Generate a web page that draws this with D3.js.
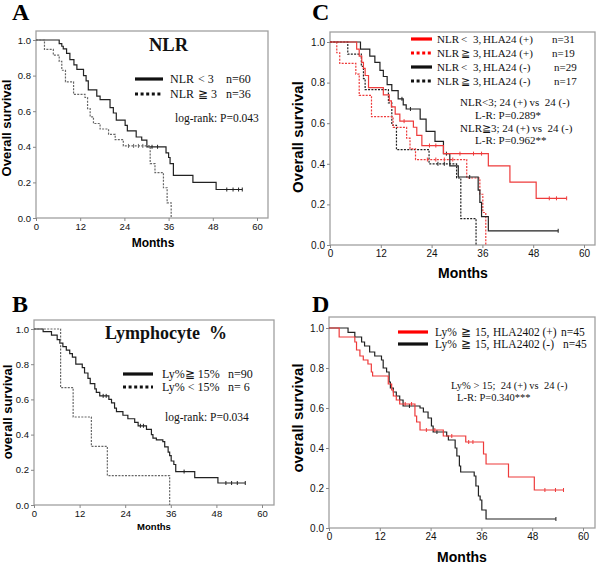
<!DOCTYPE html>
<html><head><meta charset="utf-8">
<script src="https://cdn.jsdelivr.net/npm/d3@7"></script>
<style>
html,body{margin:0;padding:0;background:#fff;}
svg text{white-space:pre;}
</style>
</head><body>
<svg id="chart" width="600" height="564"></svg>
<script>
// ---------- data ----------
const monthTicks = [0, 12, 24, 36, 48, 60];
const survTicks = [0, 0.2, 0.4, 0.6, 0.8, 1.0];

// Panel A: NLR
const aLowTime = [6.3, 7.0, 7.4, 8.3, 9.2, 10.3, 11.1, 12.9, 13.6, 14.2, 16.5, 17.4, 20.1, 21.0, 21.8, 24.2, 24.8, 27.2, 28.7, 30.1, 35.3, 36.0, 36.4, 37.3, 42.6, 48.9];
const aLowSurv = [0.98, 0.965, 0.95, 0.925, 0.89, 0.86, 0.835, 0.80, 0.77, 0.72, 0.685, 0.665, 0.62, 0.59, 0.55, 0.52, 0.49, 0.455, 0.437, 0.40, 0.366, 0.34, 0.305, 0.24, 0.20, 0.16];
const aLowCensor = [31.5, 33.0, 51.8, 53.5, 55.0, 56.0];
const aHighTime = [2.3, 4.7, 6.3, 7.0, 8.0, 10.2, 13.3, 14.0, 14.7, 15.6, 17.4, 19.7, 21.5, 23.7, 31.0, 32.3, 34.6, 35.6, 36.7];
const aHighSurv = [0.947, 0.915, 0.88, 0.83, 0.765, 0.694, 0.677, 0.615, 0.568, 0.531, 0.50, 0.47, 0.44, 0.405, 0.306, 0.255, 0.17, 0.085, 0.0];
const aHighCensor = [25.1, 26.5, 27.8, 29.0];

// Panel B: Lymphocyte %
const bHighTime = [2.4, 4.6, 6.1, 6.8, 7.6, 8.5, 9.4, 10.1, 11.0, 12.7, 13.3, 14.2, 14.8, 16.0, 16.4, 17.3, 19.7, 20.4, 21.2, 21.7, 23.4, 24.7, 26.5, 27.4, 29.6, 30.9, 31.3, 32.2, 33.9, 34.4, 35.3, 35.7, 36.1, 36.8, 37.3, 42.3, 48.4];
const bHighSurv = [0.985, 0.965, 0.94, 0.92, 0.90, 0.88, 0.86, 0.84, 0.80, 0.78, 0.75, 0.72, 0.69, 0.66, 0.64, 0.62, 0.60, 0.58, 0.55, 0.53, 0.51, 0.49, 0.47, 0.45, 0.43, 0.40, 0.38, 0.37, 0.36, 0.33, 0.30, 0.28, 0.25, 0.23, 0.19, 0.155, 0.125];
const bHighCensor = [18.2, 19.0, 28.0, 28.8, 39.5, 50.5, 52.0, 53.5, 55.6];
const bLowTime = [7.0, 10.3, 15.1, 19.3, 35.7];
const bLowSurv = [0.667, 0.5, 0.333, 0.167, 0.0];
const bLowCensor = [];

// Panel C: NLR x HLA24
const cLowPosTime = [6.3, 6.9, 7.5, 7.9, 8.3, 9.1, 12.6, 14.0, 14.5, 15.4, 16.5, 19.7, 20.5, 21.7, 26.8, 37.4, 42.5, 48.7];
const cLowPosSurv = [0.965, 0.93, 0.90, 0.87, 0.835, 0.775, 0.74, 0.71, 0.68, 0.645, 0.61, 0.58, 0.54, 0.49, 0.45, 0.39, 0.31, 0.23];
const cLowPosCensor = [17.5, 23.5, 25.0, 30.7, 33.9, 35.8, 51.8, 53.5, 55.9];
const cHighPosTime = [1.6, 2.3, 6.1, 6.9, 9.8, 14.9, 18.1, 18.9, 20.2, 32.3, 35.4, 36.1, 36.8];
const cHighPosSurv = [0.947, 0.895, 0.842, 0.737, 0.632, 0.579, 0.526, 0.474, 0.421, 0.33, 0.25, 0.16, 0.0];
const cHighPosCensor = [23.0, 25.0, 27.0, 29.0];
const cLowNegTime = [7.2, 9.4, 10.6, 11.8, 12.6, 13.5, 14.6, 16.1, 17.3, 18.0, 21.3, 22.7, 24.8, 26.8, 28.3, 30.3, 35.0, 35.4, 35.8, 37.4];
const cLowNegSurv = [0.965, 0.93, 0.90, 0.86, 0.83, 0.79, 0.76, 0.72, 0.69, 0.67, 0.62, 0.56, 0.51, 0.45, 0.39, 0.335, 0.27, 0.21, 0.14, 0.07];
const cLowNegCensor = [17.0, 19.0, 27.5, 33.0, 53.9];
const cHighNegTime = [4.2, 7.4, 7.9, 8.3, 13.8, 14.6, 15.7, 23.4, 29.9, 30.9, 34.5];
const cHighNegSurv = [0.94, 0.88, 0.82, 0.765, 0.70, 0.59, 0.47, 0.40, 0.33, 0.13, 0.0];
const cHighNegCensor = [25.5, 27.0];

// Panel D: Ly% >= 15 x HLA2402
const dPosTime = [2.4, 6.1, 6.5, 7.3, 8.1, 9.2, 10.0, 10.3, 14.0, 14.8, 15.2, 15.9, 16.7, 20.3, 20.7, 21.5, 27.0, 32.3, 36.5, 37.1, 42.4, 48.5];
const dPosSurv = [0.955, 0.93, 0.89, 0.86, 0.84, 0.82, 0.78, 0.76, 0.72, 0.69, 0.66, 0.64, 0.62, 0.56, 0.53, 0.49, 0.46, 0.43, 0.37, 0.32, 0.255, 0.19];
const dPosCensor = [18.0, 19.5, 23.0, 25.0, 29.0, 33.0, 34.0, 51.0, 53.5, 55.4];
const dNegTime = [4.5, 6.1, 7.7, 8.4, 9.6, 10.8, 12.4, 12.8, 13.6, 14.2, 14.5, 15.2, 15.9, 16.7, 17.5, 21.5, 22.3, 23.4, 24.2, 24.6, 27.8, 28.2, 29.8, 30.2, 30.8, 31.1, 34.3, 34.7, 35.3, 35.7, 36.1, 37.1];
const dNegSurv = [0.978, 0.955, 0.93, 0.91, 0.88, 0.86, 0.84, 0.80, 0.78, 0.73, 0.70, 0.68, 0.66, 0.64, 0.61, 0.60, 0.58, 0.55, 0.51, 0.48, 0.46, 0.44, 0.40, 0.36, 0.31, 0.28, 0.26, 0.21, 0.16, 0.14, 0.09, 0.045];
const dNegCensor = [19.0, 25.5, 53.6];

// ---------- drawing ----------
const svg = d3.select("#chart");
const SANS = "'Liberation Sans', Arial, sans-serif";
const SERIF = "'Liberation Serif', 'Times New Roman', serif";
const RED = "#ee3b3b";

function stepPoints(times, surv, censor) {
  const pts = [[0, 1]];
  let prev = 1;
  times.forEach((t, i) => { pts.push([t, prev]); pts.push([t, surv[i]]); prev = surv[i]; });
  const last = surv[surv.length - 1];
  if (last > 0 && censor.length) {
    const end = d3.max(censor);
    if (end > times[times.length - 1]) pts.push([end, last]);
  }
  return pts;
}
function survAt(times, surv, t) {
  let s = 1;
  times.forEach((tt, i) => { if (tt <= t) s = surv[i]; });
  return s;
}

function panel(cfg) {
  const g = svg.append("g");
  const x = d3.scaleLinear().domain([0, 60]).range([cfg.x0, cfg.x60]);
  const y = d3.scaleLinear().domain([0, 1]).range([cfg.y0, cfg.y1]);
  g.append("rect").attr("x", cfg.box[0]).attr("y", cfg.box[1])
    .attr("width", cfg.box[2] - cfg.box[0]).attr("height", cfg.box[3] - cfg.box[1])
    .attr("fill", "#fff").attr("stroke", "#a0a0a0").attr("stroke-width", 1.3);
  const ax = g.append("g").attr("transform", `translate(0,${cfg.y0})`)
    .call(d3.axisBottom(x).tickValues(monthTicks).tickFormat(d3.format("d")).tickSize(3).tickPadding(2));
  const ay = g.append("g").attr("transform", `translate(${cfg.x0},0)`)
    .call(d3.axisLeft(y).tickValues(survTicks).tickFormat(d3.format(".1f")).tickSize(3).tickPadding(2));
  [ax, ay].forEach(a => {
    a.select(".domain").remove();
    a.selectAll("line").attr("stroke", "#888");
    a.selectAll("text").attr("font-family", SANS).attr("font-size", cfg.tickFont).attr("fill", "#111");
  });
  const line = d3.line().x(d => x(d[0])).y(d => y(d[1]));
  cfg.curves.forEach(c => {
    g.append("path").attr("d", line(stepPoints(c.t, c.s, c.c)))
      .attr("fill", "none").attr("stroke", c.color).attr("stroke-width", c.w || 1.2)
      .attr("stroke-dasharray", c.dash ? "2,1.3" : null);
    g.selectAll(null).data(c.c).enter().append("line")
      .attr("x1", d => x(d)).attr("x2", d => x(d))
      .attr("y1", d => y(survAt(c.t, c.s, d)) - 2).attr("y2", d => y(survAt(c.t, c.s, d)) + 2)
      .attr("stroke", c.color).attr("stroke-width", 1);
  });
  g.append("text").attr("x", cfg.letter[0]).attr("y", cfg.letter[1]).text(cfg.letter[2])
    .attr("font-family", SERIF).attr("font-weight", "bold").attr("font-size", 24);
  g.append("text").attr("x", cfg.xt[0]).attr("y", cfg.xt[1]).attr("text-anchor", "middle")
    .attr("font-family", SANS).attr("font-weight", "bold").attr("font-size", cfg.xt[2]).text("Months");
  g.append("text").attr("transform", `translate(${cfg.yt[0]},${cfg.yt[1]}) rotate(-90)`)
    .attr("text-anchor", "middle").attr("font-family", SANS).attr("font-weight", "bold")
    .attr("font-size", cfg.yt[2]).text(cfg.yt[3]);
  return g;
}

function txt(g, x, y, s, size, opts = {}) {
  return g.append("text").attr("x", x).attr("y", y).text(s)
    .attr("font-family", SERIF).attr("font-size", size)
    .attr("font-weight", opts.bold ? "bold" : null).attr("fill", "#111");
}
function legLine(g, x1, x2, y, color, dotted) {
  g.append("line").attr("x1", x1).attr("x2", x2).attr("y1", y).attr("y2", y)
    .attr("stroke", color).attr("stroke-width", 3.2)
    .attr("stroke-dasharray", dotted ? "3,2.6" : null);
}

// Panel A
const gA = panel({
  box: [36, 31, 268, 218], x0: 36, x60: 257, y0: 218, y1: 40, tickFont: 9.5,
  letter: [12, 20, "A"], xt: [153, 247, 12], yt: [11, 128, 13, "Overall survival"],
  curves: [
    {t: aLowTime, s: aLowSurv, c: aLowCensor, color: "#222"},
    {t: aHighTime, s: aHighSurv, c: aHighCensor, color: "#666", dash: true}
  ]
});
txt(gA, 149, 51, "NLR", 18.5, {bold: true});
legLine(gA, 135, 163, 79, "#111", false);
legLine(gA, 135, 163, 94, "#111", true);
txt(gA, 170, 83, "NLR", 12); txt(gA, 198, 83, "< 3", 12); txt(gA, 226, 83, "n=60", 12);
txt(gA, 170, 98, "NLR", 12); txt(gA, 198, 98, "≧ 3", 12); txt(gA, 226, 98, "n=36", 12);
txt(gA, 175, 122, "log-rank: P=0.043", 11.5);

// Panel B
const gB = panel({
  box: [34, 320, 274, 505], x0: 34, x60: 262, y0: 505, y1: 329, tickFont: 9.5,
  letter: [12, 312, "B"], xt: [154, 530, 9.5], yt: [12, 412, 13, "overall survival"],
  curves: [
    {t: bHighTime, s: bHighSurv, c: bHighCensor, color: "#222"},
    {t: bLowTime, s: bLowSurv, c: bLowCensor, color: "#666", dash: true}
  ]
});
txt(gB, 105, 339, "Lymphocyte  %", 18, {bold: true});
legLine(gB, 123, 153, 374, "#111", false);
legLine(gB, 123, 153, 387, "#111", true);
txt(gB, 162, 378, "Ly%≧ 15%", 12); txt(gB, 228, 378, "n=90", 12);
txt(gB, 162, 391, "Ly% < 15%", 12); txt(gB, 228, 391, "n= 6", 12);
txt(gB, 165, 421, "log-rank: P=0.034", 11.5);

// Panel C
const gC = panel({
  box: [330, 32, 595, 245], x0: 330, x60: 584, y0: 245, y1: 42, tickFont: 10,
  letter: [312, 20, "C"], xt: [463, 278, 14], yt: [303, 137, 15, "Overall survival"],
  curves: [
    {t: cHighNegTime, s: cHighNegSurv, c: cHighNegCensor, color: "#222", dash: true},
    {t: cHighPosTime, s: cHighPosSurv, c: cHighPosCensor, color: RED, dash: true},
    {t: cLowNegTime, s: cLowNegSurv, c: cLowNegCensor, color: "#222"},
    {t: cLowPosTime, s: cLowPosSurv, c: cLowPosCensor, color: RED}
  ]
});
const cRows = [[39, "#ff0000", false, "<", "HLA24 (+)", "n=31", 552],
               [53, "#ff0000", true, "≧", "HLA24 (+)", "n=19", 552],
               [67, "#111", false, "<", "HLA24 (-)", "n=29", 554],
               [81, "#111", true, "≧", "HLA24 (-)", "n=17", 554]];
cRows.forEach(r => {
  legLine(gC, 411, 432, r[0], r[1], r[2]);
  txt(gC, 437, r[0] + 4, "NLR", 11);
  txt(gC, 461, r[0] + 4, r[3], 11);
  txt(gC, 473, r[0] + 4, "3,", 11);
  txt(gC, 483, r[0] + 4, r[4], 11);
  txt(gC, r[6], r[0] + 4, r[5], 11);
});
txt(gC, 460, 106, "NLR<3; 24 (+) vs  24 (-)", 11);
txt(gC, 475, 119, "L-R: P=0.289*", 11);
txt(gC, 460, 132, "NLR≧3; 24 (+) vs  24 (-)", 11);
txt(gC, 475, 144, "L-R: P=0.962**", 11);

// Panel D
const gD = panel({
  box: [329, 317, 595, 528], x0: 329, x60: 583, y0: 528, y1: 328, tickFont: 10,
  letter: [312, 312, "D"], xt: [462, 562, 14], yt: [303, 418, 15, "overall survival"],
  curves: [
    {t: dNegTime, s: dNegSurv, c: dNegCensor, color: "#222"},
    {t: dPosTime, s: dPosSurv, c: dPosCensor, color: RED}
  ]
});
[[332, "#ff0000", "(+)", 561], [344, "#111", "(-)", 563]].forEach(r => {
  legLine(gD, 398, 428, r[0], r[1], false);
  txt(gD, 435, r[0] + 4, "Ly%", 11.5);
  txt(gD, 461, r[0] + 4, "≧", 11.5);
  txt(gD, 475, r[0] + 4, "15,", 11.5);
  txt(gD, 493, r[0] + 4, "HLA2402 " + r[2], 11.5);
  txt(gD, r[3], r[0] + 4, "n=45", 11.5);
});
txt(gD, 451, 389, "Ly% > 15;  24 (+) vs  24 (-)", 10.5);
txt(gD, 457, 401, "L-R: P=0.340***", 10.5);
</script>
</body></html>
